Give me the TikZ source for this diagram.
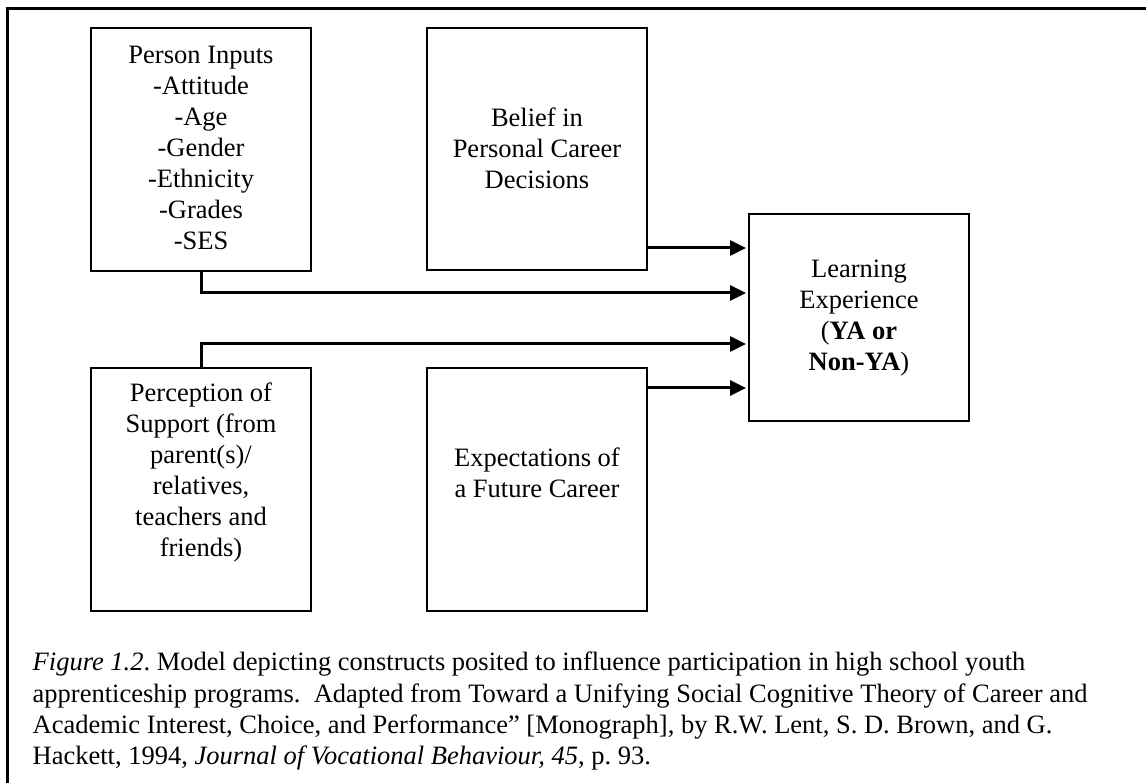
\documentclass[tikz,border=0pt]{standalone}
\usepackage{fontspec}
\setmainfont{Liberation Serif}
\usetikzlibrary{arrows.meta}
\begin{document}
\begin{tikzpicture}[x=1pt,y=-1pt,
  box/.style={draw,line width=2pt,rectangle,inner sep=0pt},
  txt/.style={inner sep=0pt,align=center,font=\fontsize{26.5}{31}\selectfont},
  conn/.style={line width=3pt,-{Triangle[length=16pt,width=15pt]},shorten >=2pt},
  frame/.style={line width=3pt}]
\useasboundingbox (0,0) rectangle (1146,783);
\draw[frame] (1146,9) -- (7,9) -- (7,783);
% boxes
\node[box,minimum width=220pt,minimum height=243pt] (pi) at (201,149.5) {};
\node[box,minimum width=220pt,minimum height=242pt] (be) at (537,149) {};
\node[box,minimum width=220pt,minimum height=243pt] (pe) at (201,489.5) {};
\node[box,minimum width=220pt,minimum height=243pt] (ex) at (537,489.5) {};
\node[box,minimum width=220pt,minimum height=207pt] (le) at (859,317.5) {};
% texts
\node[txt] (pit) at (201,148) {Person Inputs\\-Attitude\\-Age\\-Gender\\-Ethnicity\\-Grades\\-SES};
\node[txt] (bet) at (537,148) {Belief in\\Personal Career\\Decisions};
\node[txt] (pet) at (201,472) {Perception of\\Support (from\\parent(s)/\\relatives,\\teachers and\\friends)};
\node[txt] (ext) at (537,472.5) {Expectations of\\a Future Career};
\node[txt] (let) at (859,318.5) {Learning\\Experience\\(\textbf{YA or}\\\textbf{Non-YA})};
% connectors
\draw[conn] (be.east |- 0,248) -- (le.west |- 0,248);
\draw[conn] (pi.south) |- (le.west |- 0,293);
\draw[conn] (pe.north) |- (le.west |- 0,344);
\draw[conn] (ex.east |- 0,388) -- (le.west |- 0,388);
% caption
\node[inner sep=0pt,anchor=north west,align=left,font=\fontsize{26.5}{31.3}\selectfont\frenchspacing] (cap) at (32.5,652)
{\textit{Figure 1.2}. Model depicting constructs posited to influence participation in high school youth\\
apprenticeship programs.\ \ Adapted from Toward a Unifying Social Cognitive Theory of Career and\\
Academic Interest, Choice, and Performance” [Monograph], by R.W. Lent, S. D. Brown, and G.\\
Hackett, 1994, \textit{Journal of Vocational Behaviour, 45}, p. 93.};
\end{tikzpicture}
\end{document}
